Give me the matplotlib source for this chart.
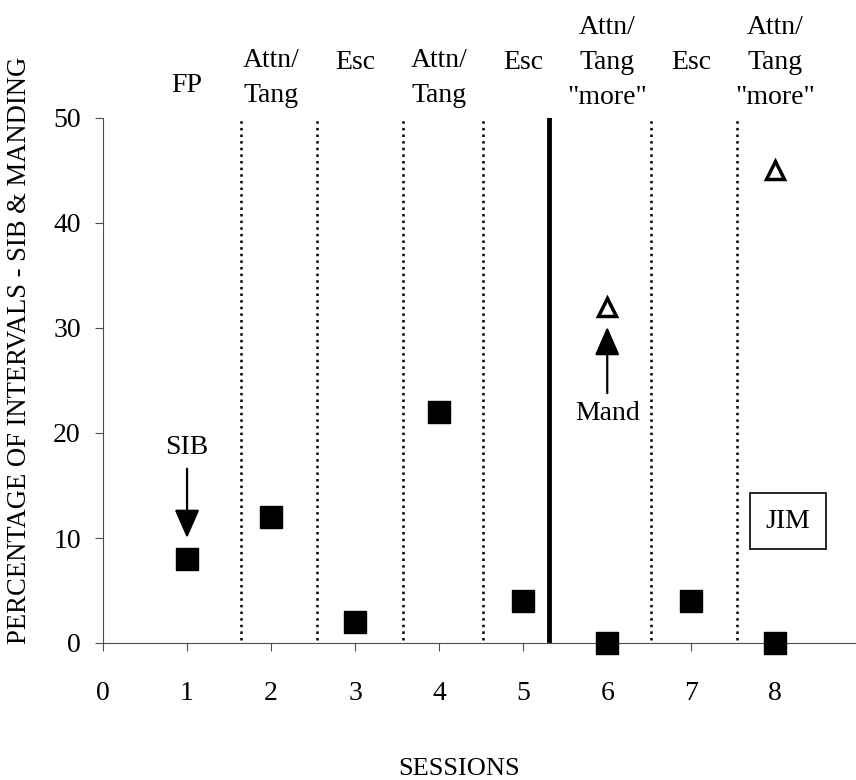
import numpy as np
import matplotlib.pyplot as plt

plt.rcParams['font.family'] = ['Liberation Serif', 'DejaVu Serif']

# data
sessions = [1, 2, 3, 4, 5, 6, 7, 8]
sib = [8, 12, 2, 22, 4, 0, 4, 0]
mand_sessions = [6, 8]
mand = [32, 45]
phase_labels = ['FP', 'Attn/\nTang', 'Esc', 'Attn/\nTang', 'Esc',
                'Attn/\nTang\n"more"', 'Esc', 'Attn/\nTang\n"more"']
label_y = [53.1, 53.8, 55.3, 53.8, 55.3, 55.3, 55.3, 55.3]
dotted_lines = [1.64, 2.55, 3.57, 4.52, 6.52, 7.54]
solid_line = 5.31

fs = 20
fig = plt.figure(figsize=(8.56, 7.8), dpi=100)
ax = fig.add_axes([103/856, 137/780, 1 - 103/856, 525/780])

for xv in dotted_lines:
    ax.plot([xv, xv], [0.3, 50], color='k', linestyle=':', linewidth=1.8)
ax.plot([solid_line, solid_line], [0.3, 50], color='k', linewidth=3.5)

ax.plot(sessions, sib, 's', color='k', markersize=16, linestyle='none',
        clip_on=False, zorder=5)
ax.plot(mand_sessions, mand, '^', markerfacecolor='white', markeredgecolor='k',
        markeredgewidth=2.5, markersize=13, linestyle='none', zorder=5)

# annotations
arrow = dict(arrowstyle='-|>,head_width=0.35,head_length=0.8',
             color='k', lw=1.6, mutation_scale=22, shrinkA=0, shrinkB=0)
ax.annotate('', xy=(1, 10.0), xytext=(1, 16.6), arrowprops=arrow)
ax.text(1, 18.6, 'SIB', ha='center', va='center', fontsize=fs)
ax.annotate('', xy=(6, 30.1), xytext=(6, 23.8), arrowprops=arrow)
ax.text(6, 21.9, 'Mand', ha='center', va='center', fontsize=fs)
ax.text(8.15, 11.6, 'JIM', ha='center', va='center', fontsize=fs,
        bbox=dict(boxstyle='square,pad=0.55', facecolor='white', edgecolor='k', lw=1.2))

# phase labels above the plot
for s, lab, yy in zip(sessions, phase_labels, label_y):
    ax.text(s, yy, lab, ha='center', va='center', fontsize=fs, linespacing=1.52,
            clip_on=False)

ax.set_xlim(0, 8.96)
ax.set_ylim(0, 50)
ax.set_xticks(range(0, 9))
ax.set_yticks(range(0, 51, 10))
ax.spines['top'].set_visible(False)
ax.spines['right'].set_visible(False)
ax.spines['left'].set_color('0.3')
ax.spines['bottom'].set_color('0.3')
ax.tick_params(labelsize=fs, direction='out', length=6, color='0.3')
ax.tick_params(axis='x', pad=21)
ax.tick_params(axis='y', pad=10)
ax.set_ylabel('PERCENTAGE OF INTERVALS - SIB & MANDING', fontsize=19.2)
ax.set_xlabel('SESSIONS', fontsize=19)
ax.yaxis.set_label_coords(-0.094, 0.558)
ax.xaxis.set_label_coords(0.473, -0.219)

fig.savefig('out.png', dpi=100)
